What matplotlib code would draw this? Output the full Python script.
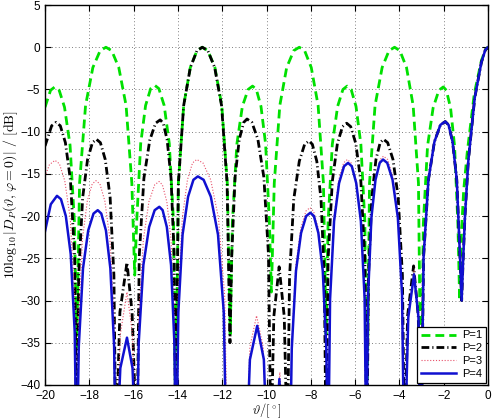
import matplotlib
matplotlib.use("Agg")
import matplotlib.pyplot as plt

# ---- data (angle in degrees, level in dB) ----
theta_p1 = [-20, -19.75, -19.56, -19.36, -19.12, -18.87, -18.67, -18.57,
            -18.44, -18.17, -17.84, -17.51, -17.25, -16.99, -16.67, -16.34, -16.08, -15.95,
            -15.86, -15.68, -15.46, -15.23, -15.05, -14.86, -14.62, -14.39, -14.2, -14.1,
            -13.98, -13.74, -13.44, -13.14, -12.9, -12.65, -12.33, -12.02, -11.77, -11.64,
            -11.54, -11.34, -11.09, -10.83, -10.63, -10.46, -10.25, -10.04, -9.87, -9.78,
            -9.65, -9.40, -9.09, -8.77, -8.52, -8.28, -7.98, -7.67, -7.43, -7.31,
            -7.22, -7.03, -6.79, -6.55, -6.36, -6.18, -5.96, -5.74, -5.56, -5.47,
            -5.35, -5.10, -4.78, -4.47, -4.22, -3.98, -3.68, -3.38, -3.14, -3.02,
            -2.92, -2.73, -2.48, -2.22, -2.02, -1.88, -1.69, -1.51, -1.36, -1.28,
            -1.2, -1.1, -0.94, -0.62, -0.3, -0.12, 0]
d_p1 = [-7.1, -5.1, -4.7, -5.1, -7.1, -11.6, -20.8, -36,
        -16.1, -6.9, -2.4, -0.4, 0, -0.4, -2.4, -6.9, -16.1, -27,
        -20.6, -11.4, -6.9, -4.9, -4.5, -4.9, -6.9, -11.4, -20.6, -45,
        -16.1, -6.9, -2.4, -0.4, 0, -0.4, -2.4, -6.9, -16.1, -34,
        -20.7, -11.5, -7.0, -5.0, -4.6, -5.0, -7.0, -11.5, -20.7, -29,
        -16.1, -6.9, -2.4, -0.4, 0, -0.4, -2.4, -6.9, -16.1, -34,
        -20.7, -11.5, -7.0, -5.0, -4.6, -5.0, -7.0, -11.5, -20.7, -45,
        -16.1, -6.9, -2.4, -0.4, 0, -0.4, -2.4, -6.9, -16.1, -45,
        -20.9, -11.7, -7.2, -5.1, -4.7, -5.1, -7.2, -11.7, -20.9, -30,
        -22, -17, -12.5, -5.5, -1.6, -0.3, 0]

theta_p2 = [-20, -19.7, -19.5, -19.31, -19.08, -18.85, -18.66, -18.57,
            -18.48, -18.30, -18.08, -17.86, -17.68, -17.50, -17.28, -17.06, -16.89, -16.8,
            -16.62, -16.3, -16.07, -15.85,
            -15.745, -15.535, -15.27, -15.01, -14.8, -14.66, -14.485, -14.31, -14.17, -14.1,
            -13.98, -13.74, -13.44, -13.14, -12.9, -12.65, -12.34, -12.03, -11.78, -11.65,
            -11.57, -11.42, -11.23, -11.03, -10.88, -10.66, -10.39, -10.12, -9.91, -9.8,
            -9.67, -9.43, -9.2, -9.06,
            -8.96, -8.77, -8.52, -8.28, -8.08, -7.93, -7.73, -7.54, -7.39, -7.31,
            -7.22, -7.03, -6.80, -6.57, -6.38, -6.20, -5.97, -5.74, -5.56, -5.47,
            -5.395, -5.245, -5.06, -4.87, -4.72, -4.53, -4.29, -4.055, -3.865, -3.77,
            -3.63, -3.36, -3.15, -3.02]
d_p2 = [-11.7, -9.3, -8.9, -9.3, -11.3, -15.8, -25.0, -48,
        -27.0, -17.8, -13.3, -11.3, -10.9, -11.3, -13.3, -17.8, -27.0, -48,
        -31.4, -25.5, -31.4, -48,
        -24.7, -15.5, -11.0, -9.0, -8.6, -9.0, -11.0, -15.5, -24.7, -48,
        -16.1, -6.9, -2.4, -0.4, 0, -0.4, -2.4, -6.9, -16.1, -35,
        -24.6, -15.4, -10.9, -8.9, -8.5, -8.9, -10.9, -15.4, -24.6, -48,
        -31.9, -26, -31.9, -48,
        -27.2, -18.0, -13.5, -11.5, -11.1, -11.5, -13.5, -18.0, -27.2, -48,
        -25.1, -15.9, -11.4, -9.4, -9.0, -9.4, -11.4, -15.9, -25.1, -48,
        -27.0, -17.8, -13.3, -11.3, -10.9, -11.3, -13.3, -17.8, -27.0, -48,
        -31.8, -25.9, -31.8, -48]

theta_p3 = [-20, -19.8, -19.55, -19.35, -19.11, -18.86, -18.67, -18.57,
            -18.48, -18.31, -18.09, -17.87, -17.7, -17.52, -17.30, -17.07, -16.89, -16.8,
            -16.6, -16.3, -16.05, -15.87,
            -15.77, -15.56, -15.31, -15.05, -14.85, -14.70, -14.50, -14.31, -14.16, -14.08,
            -13.99, -13.80, -13.57, -13.34, -13.15, -12.87, -12.52, -12.17, -11.89, -11.75,
            -11.35,
            -10.95, -10.75, -10.45, -10.15, -9.95,
            -9.6, -9.4, -9.2,
            -8.95, -8.86, -8.68, -8.45, -8.22, -8.04, -7.88, -7.67, -7.47, -7.30, -7.22,
            -7.13, -6.96, -6.74, -6.52, -6.35, -6.18, -5.96, -5.75, -5.58, -5.49,
            -5.41, -5.26, -5.07, -4.87, -4.72, -4.53, -4.30, -4.06, -3.87, -3.78,
            -3.6, -3.34, -3.14, -3.03]
d_p3 = [-15.3, -13.9, -13.4, -13.8, -15.8, -20.3, -29.5, -50,
        -31.9, -22.7, -18.2, -16.2, -15.8, -16.2, -18.2, -22.7, -31.9, -50,
        -34, -29, -34, -50,
        -32.0, -22.8, -18.3, -16.3, -15.9, -16.3, -18.3, -22.8, -32.0, -50,
        -29.4, -20.2, -15.7, -13.7, -13.3, -13.7, -15.7, -20.2, -29.4, -50,
        -55,
        -50, -35.5, -31.8, -35.5, -50,
        -46, -38.5, -46,
        -50, -35.1, -25.9, -21.4, -19.4, -19.0, -19.4, -21.4, -25.9, -35.1, -50,
        -29.4, -20.2, -15.7, -13.7, -13.3, -13.7, -15.7, -20.2, -29.4, -50,
        -29.0, -19.8, -15.3, -13.3, -12.9, -13.3, -15.3, -19.8, -29.0, -50,
        -31.5, -26.5, -31.5, -50]

theta_p4 = [-20, -19.74, -19.46, -19.28, -19.06, -18.84, -18.66, -18.57,
            -18.475, -18.285, -18.05, -17.81, -17.62, -17.46, -17.25, -17.05, -16.88, -16.8,
            -16.6, -16.3, -16.05, -15.87,
            -15.77, -15.56, -15.30, -15.05, -14.84, -14.69, -14.50, -14.31, -14.16, -14.08,
            -13.98, -13.79, -13.54, -13.30, -13.1, -12.84, -12.515, -12.19, -11.93, -11.8,
            -11.35,
            -10.93, -10.75, -10.42, -10.12, -9.95,
            -9.55, -9.42, -9.3,
            -8.95, -8.86, -8.67, -8.44, -8.21, -8.02, -7.86, -7.66, -7.46, -7.30, -7.22,
            -7.13, -6.95, -6.725, -6.50, -6.32, -6.15, -5.95, -5.74, -5.57, -5.49,
            -5.415, -5.265, -5.08, -4.89, -4.74, -4.55, -4.31, -4.07, -3.88, -3.78,
            -3.6, -3.34, -3.14, -3.03]
d_p4 = [-21.8, -18.6, -17.6, -18.0, -20.0, -24.5, -33.7, -50,
        -35.4, -26.2, -21.7, -19.7, -19.3, -19.7, -21.7, -26.2, -35.4, -50,
        -38, -34.4, -38, -50,
        -35.0, -25.8, -21.3, -19.3, -18.9, -19.3, -21.3, -25.8, -35.0, -50,
        -31.4, -22.2, -17.7, -15.7, -15.3, -15.7, -17.7, -22.2, -31.4, -50,
        -55,
        -50, -37, -33, -37, -50,
        -45, -39.3, -45,
        -50, -35.7, -26.5, -22.0, -20.0, -19.6, -20.0, -22.0, -26.5, -35.7, -50,
        -29.8, -20.6, -16.1, -14.1, -13.7, -14.1, -16.1, -20.6, -29.8, -50,
        -29.4, -20.2, -15.7, -13.7, -13.3, -13.7, -15.7, -20.2, -29.4, -50,
        -32, -26.9, -32, -50]

# common part near broadside, identical for P=2, 3, 4
theta_tail = [-2.91, -2.69, -2.42, -2.15, -1.93, -1.78, -1.60, -1.41, -1.264, -1.19,
              -1.12, -1.04, -0.89, -0.6, -0.3, -0.12, 0]
d_tail = [-24.9, -15.7, -11.2, -9.2, -8.8, -9.2, -11.2, -15.7, -24.9, -30,
          -25, -20, -13.5, -6.0, -1.8, -0.3, 0]

labels = ["P=1", "P=2", "P=3", "P=4"]
xticks = list(range(-20, 1, 2))
yticks = list(range(-40, 6, 5))

plt.rcParams["mathtext.fontset"] = "cm"
plt.rcParams["font.family"] = ["Liberation Sans", "DejaVu Sans"]
plt.rcParams["axes.unicode_minus"] = True

fig = plt.figure(figsize=(4.92, 4.20), dpi=100)
ax = fig.add_axes([0.0915, 0.0835, 0.9004, 0.9045])

series = [
    (theta_p1, d_p1, dict(color="#00e000", lw=2.0, dashes=(3.2, 1.8))),
    (theta_p2 + theta_tail, d_p2 + d_tail, dict(color="black", lw=2.0, dashes=(2.8, 1.1, 0.4, 1.1))),
    (theta_p3 + theta_tail, d_p3 + d_tail, dict(color="#e8506a", lw=0.8, dashes=(1.0, 1.6))),
    (theta_p4 + theta_tail, d_p4 + d_tail, dict(color="#1010d0", lw=1.8)),
]
for (x, y, st), lab in zip(series, labels):
    ax.plot(x, y, label=lab, **st)

ax.set_xlim(-20, 0)
ax.set_ylim(-40, 5)
ax.set_xticks(xticks)
ax.set_yticks(yticks)
ax.grid(True, linestyle=(0, (1, 3)), color="#555555", linewidth=0.6)
ax.tick_params(direction="in", top=True, right=True, labelsize=8.5, length=4, width=0.8)
ax.tick_params(axis="x", pad=3.6)
for sp in ax.spines.values():
    sp.set_linewidth(1.0)

ax.set_xlabel(r"$\vartheta/[^\circ]$", fontsize=9)
ax.xaxis.set_label_coords(0.5, -0.043)
ax.set_ylabel(r"$10\log_{10}|D_P(\vartheta,\varphi=0)|\ /\ [\mathrm{dB}]$", fontsize=10, labelpad=0)

leg = ax.legend(loc="lower right", fontsize=8, frameon=True, fancybox=False,
                edgecolor="black", framealpha=1, borderpad=0.35, labelspacing=0.25,
                handlelength=3.2, handletextpad=0.5, borderaxespad=0.2)
leg.get_frame().set_linewidth(0.9)

fig.savefig("out.png", dpi=100)
